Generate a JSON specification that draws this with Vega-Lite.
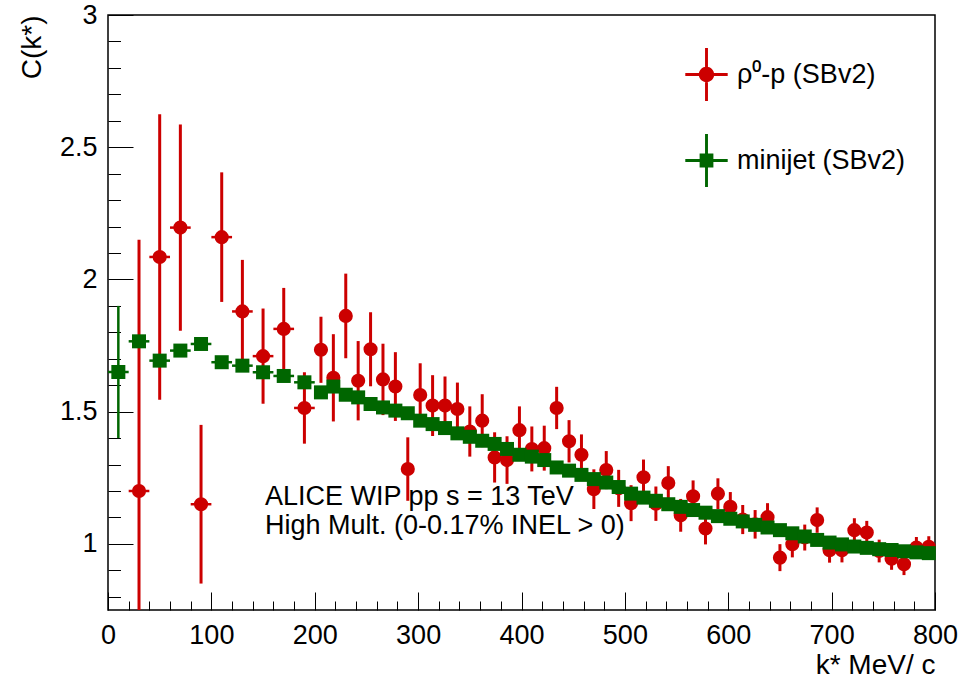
{
  "$schema": "https://vega.github.io/schema/vega-lite/v6.json",
  "width": 827,
  "height": 595,
  "autosize": {"type": "none"},
  "padding": {"left": 108, "top": 15, "right": 25, "bottom": 74},
  "background": "white",
  "config": {
    "font": "Liberation Sans",
    "view": {"stroke": "black", "strokeWidth": 1.5},
    "axis": {"domain": false, "grid": false, "tickColor": "black", "tickWidth": 1, "labelColor": "black", "labelFont": "Liberation Sans", "labelFontSize": 27, "titleFont": "Liberation Sans", "titleFontSize": 28, "titleFontWeight": "normal", "titleColor": "black"}
  },
  "datasets": {
    "pts": [
      {"series": "ρ⁰-p (SBv2)", "k": 30, "c": 1.2, "e": 0.95, "w": 10},
      {"series": "ρ⁰-p (SBv2)", "k": 50, "c": 2.085, "e": 0.54, "w": 10},
      {"series": "ρ⁰-p (SBv2)", "k": 70, "c": 2.196, "e": 0.39, "w": 10},
      {"series": "ρ⁰-p (SBv2)", "k": 90, "c": 1.15, "e": 0.3, "w": 10},
      {"series": "ρ⁰-p (SBv2)", "k": 110, "c": 2.16, "e": 0.245, "w": 10},
      {"series": "ρ⁰-p (SBv2)", "k": 130, "c": 1.879, "e": 0.195, "w": 10},
      {"series": "ρ⁰-p (SBv2)", "k": 150, "c": 1.71, "e": 0.18, "w": 10},
      {"series": "ρ⁰-p (SBv2)", "k": 170, "c": 1.813, "e": 0.155, "w": 10},
      {"series": "ρ⁰-p (SBv2)", "k": 190, "c": 1.514, "e": 0.135, "w": 10},
      {"series": "ρ⁰-p (SBv2)", "k": 206, "c": 1.734, "e": 0.125, "w": 6},
      {"series": "ρ⁰-p (SBv2)", "k": 218, "c": 1.628, "e": 0.165, "w": 6},
      {"series": "ρ⁰-p (SBv2)", "k": 230, "c": 1.862, "e": 0.16, "w": 6},
      {"series": "ρ⁰-p (SBv2)", "k": 242, "c": 1.617, "e": 0.15, "w": 6},
      {"series": "ρ⁰-p (SBv2)", "k": 254, "c": 1.736, "e": 0.14, "w": 6},
      {"series": "ρ⁰-p (SBv2)", "k": 266, "c": 1.622, "e": 0.135, "w": 6},
      {"series": "ρ⁰-p (SBv2)", "k": 278, "c": 1.595, "e": 0.13, "w": 6},
      {"series": "ρ⁰-p (SBv2)", "k": 290, "c": 1.283, "e": 0.12, "w": 6},
      {"series": "ρ⁰-p (SBv2)", "k": 302, "c": 1.563, "e": 0.12, "w": 6},
      {"series": "ρ⁰-p (SBv2)", "k": 314, "c": 1.523, "e": 0.115, "w": 6},
      {"series": "ρ⁰-p (SBv2)", "k": 326, "c": 1.523, "e": 0.11, "w": 6},
      {"series": "ρ⁰-p (SBv2)", "k": 338, "c": 1.51, "e": 0.1, "w": 6},
      {"series": "ρ⁰-p (SBv2)", "k": 350, "c": 1.425, "e": 0.095, "w": 6},
      {"series": "ρ⁰-p (SBv2)", "k": 362, "c": 1.466, "e": 0.1, "w": 6},
      {"series": "ρ⁰-p (SBv2)", "k": 374, "c": 1.327, "e": 0.095, "w": 6},
      {"series": "ρ⁰-p (SBv2)", "k": 386, "c": 1.317, "e": 0.09, "w": 6},
      {"series": "ρ⁰-p (SBv2)", "k": 398, "c": 1.43, "e": 0.09, "w": 6},
      {"series": "ρ⁰-p (SBv2)", "k": 410, "c": 1.359, "e": 0.085, "w": 6},
      {"series": "ρ⁰-p (SBv2)", "k": 422, "c": 1.362, "e": 0.085, "w": 6},
      {"series": "ρ⁰-p (SBv2)", "k": 434, "c": 1.514, "e": 0.08, "w": 6},
      {"series": "ρ⁰-p (SBv2)", "k": 446, "c": 1.388, "e": 0.08, "w": 6},
      {"series": "ρ⁰-p (SBv2)", "k": 458, "c": 1.337, "e": 0.077, "w": 6},
      {"series": "ρ⁰-p (SBv2)", "k": 470, "c": 1.207, "e": 0.075, "w": 6},
      {"series": "ρ⁰-p (SBv2)", "k": 482, "c": 1.279, "e": 0.072, "w": 6},
      {"series": "ρ⁰-p (SBv2)", "k": 494, "c": 1.21, "e": 0.07, "w": 6},
      {"series": "ρ⁰-p (SBv2)", "k": 506, "c": 1.154, "e": 0.068, "w": 6},
      {"series": "ρ⁰-p (SBv2)", "k": 518, "c": 1.252, "e": 0.067, "w": 6},
      {"series": "ρ⁰-p (SBv2)", "k": 530, "c": 1.152, "e": 0.065, "w": 6},
      {"series": "ρ⁰-p (SBv2)", "k": 542, "c": 1.23, "e": 0.064, "w": 6},
      {"series": "ρ⁰-p (SBv2)", "k": 554, "c": 1.108, "e": 0.062, "w": 6},
      {"series": "ρ⁰-p (SBv2)", "k": 566, "c": 1.18, "e": 0.06, "w": 6},
      {"series": "ρ⁰-p (SBv2)", "k": 578, "c": 1.058, "e": 0.06, "w": 6},
      {"series": "ρ⁰-p (SBv2)", "k": 590, "c": 1.19, "e": 0.058, "w": 6},
      {"series": "ρ⁰-p (SBv2)", "k": 602, "c": 1.14, "e": 0.056, "w": 6},
      {"series": "ρ⁰-p (SBv2)", "k": 614, "c": 1.092, "e": 0.055, "w": 6},
      {"series": "ρ⁰-p (SBv2)", "k": 626, "c": 1.074, "e": 0.054, "w": 6},
      {"series": "ρ⁰-p (SBv2)", "k": 638, "c": 1.101, "e": 0.053, "w": 6},
      {"series": "ρ⁰-p (SBv2)", "k": 650, "c": 0.948, "e": 0.051, "w": 6},
      {"series": "ρ⁰-p (SBv2)", "k": 662, "c": 0.999, "e": 0.05, "w": 6},
      {"series": "ρ⁰-p (SBv2)", "k": 674, "c": 1.024, "e": 0.049, "w": 6},
      {"series": "ρ⁰-p (SBv2)", "k": 686, "c": 1.09, "e": 0.048, "w": 6},
      {"series": "ρ⁰-p (SBv2)", "k": 698, "c": 0.976, "e": 0.047, "w": 6},
      {"series": "ρ⁰-p (SBv2)", "k": 710, "c": 0.976, "e": 0.046, "w": 6},
      {"series": "ρ⁰-p (SBv2)", "k": 722, "c": 1.052, "e": 0.045, "w": 6},
      {"series": "ρ⁰-p (SBv2)", "k": 734, "c": 1.043, "e": 0.044, "w": 6},
      {"series": "ρ⁰-p (SBv2)", "k": 746, "c": 0.973, "e": 0.043, "w": 6},
      {"series": "ρ⁰-p (SBv2)", "k": 758, "c": 0.944, "e": 0.042, "w": 6},
      {"series": "ρ⁰-p (SBv2)", "k": 770, "c": 0.923, "e": 0.041, "w": 6},
      {"series": "ρ⁰-p (SBv2)", "k": 782, "c": 0.986, "e": 0.04, "w": 6},
      {"series": "ρ⁰-p (SBv2)", "k": 794, "c": 0.989, "e": 0.04, "w": 6},
      {"series": "minijet (SBv2)", "k": 10, "c": 1.65, "e": 0.25, "w": 10},
      {"series": "minijet (SBv2)", "k": 30, "c": 1.766, "e": 0.02, "w": 10},
      {"series": "minijet (SBv2)", "k": 50, "c": 1.693, "e": 0.02, "w": 10},
      {"series": "minijet (SBv2)", "k": 70, "c": 1.731, "e": 0.02, "w": 10},
      {"series": "minijet (SBv2)", "k": 90, "c": 1.756, "e": 0.02, "w": 10},
      {"series": "minijet (SBv2)", "k": 110, "c": 1.687, "e": 0.015, "w": 10},
      {"series": "minijet (SBv2)", "k": 130, "c": 1.674, "e": 0.015, "w": 10},
      {"series": "minijet (SBv2)", "k": 150, "c": 1.649, "e": 0.015, "w": 10},
      {"series": "minijet (SBv2)", "k": 170, "c": 1.635, "e": 0.012, "w": 10},
      {"series": "minijet (SBv2)", "k": 190, "c": 1.611, "e": 0.012, "w": 10},
      {"series": "minijet (SBv2)", "k": 206, "c": 1.573, "e": 0.01, "w": 6},
      {"series": "minijet (SBv2)", "k": 218, "c": 1.595, "e": 0.01, "w": 6},
      {"series": "minijet (SBv2)", "k": 230, "c": 1.564, "e": 0.01, "w": 6},
      {"series": "minijet (SBv2)", "k": 242, "c": 1.554, "e": 0.01, "w": 6},
      {"series": "minijet (SBv2)", "k": 254, "c": 1.529, "e": 0.01, "w": 6},
      {"series": "minijet (SBv2)", "k": 266, "c": 1.516, "e": 0.01, "w": 6},
      {"series": "minijet (SBv2)", "k": 278, "c": 1.504, "e": 0.01, "w": 6},
      {"series": "minijet (SBv2)", "k": 290, "c": 1.494, "e": 0.01, "w": 6},
      {"series": "minijet (SBv2)", "k": 302, "c": 1.466, "e": 0.01, "w": 6},
      {"series": "minijet (SBv2)", "k": 314, "c": 1.453, "e": 0.01, "w": 6},
      {"series": "minijet (SBv2)", "k": 326, "c": 1.438, "e": 0.01, "w": 6},
      {"series": "minijet (SBv2)", "k": 338, "c": 1.418, "e": 0.01, "w": 6},
      {"series": "minijet (SBv2)", "k": 350, "c": 1.405, "e": 0.01, "w": 6},
      {"series": "minijet (SBv2)", "k": 362, "c": 1.39, "e": 0.01, "w": 6},
      {"series": "minijet (SBv2)", "k": 374, "c": 1.378, "e": 0.01, "w": 6},
      {"series": "minijet (SBv2)", "k": 386, "c": 1.359, "e": 0.01, "w": 6},
      {"series": "minijet (SBv2)", "k": 398, "c": 1.337, "e": 0.01, "w": 6},
      {"series": "minijet (SBv2)", "k": 410, "c": 1.33, "e": 0.01, "w": 6},
      {"series": "minijet (SBv2)", "k": 422, "c": 1.317, "e": 0.01, "w": 6},
      {"series": "minijet (SBv2)", "k": 434, "c": 1.289, "e": 0.01, "w": 6},
      {"series": "minijet (SBv2)", "k": 446, "c": 1.277, "e": 0.01, "w": 6},
      {"series": "minijet (SBv2)", "k": 458, "c": 1.261, "e": 0.01, "w": 6},
      {"series": "minijet (SBv2)", "k": 470, "c": 1.245, "e": 0.01, "w": 6},
      {"series": "minijet (SBv2)", "k": 482, "c": 1.232, "e": 0.01, "w": 6},
      {"series": "minijet (SBv2)", "k": 494, "c": 1.215, "e": 0.01, "w": 6},
      {"series": "minijet (SBv2)", "k": 506, "c": 1.19, "e": 0.01, "w": 6},
      {"series": "minijet (SBv2)", "k": 518, "c": 1.175, "e": 0.01, "w": 6},
      {"series": "minijet (SBv2)", "k": 530, "c": 1.163, "e": 0.01, "w": 6},
      {"series": "minijet (SBv2)", "k": 542, "c": 1.15, "e": 0.01, "w": 6},
      {"series": "minijet (SBv2)", "k": 554, "c": 1.14, "e": 0.01, "w": 6},
      {"series": "minijet (SBv2)", "k": 566, "c": 1.128, "e": 0.01, "w": 6},
      {"series": "minijet (SBv2)", "k": 578, "c": 1.118, "e": 0.01, "w": 6},
      {"series": "minijet (SBv2)", "k": 590, "c": 1.105, "e": 0.01, "w": 6},
      {"series": "minijet (SBv2)", "k": 602, "c": 1.095, "e": 0.01, "w": 6},
      {"series": "minijet (SBv2)", "k": 614, "c": 1.085, "e": 0.01, "w": 6},
      {"series": "minijet (SBv2)", "k": 626, "c": 1.072, "e": 0.01, "w": 6},
      {"series": "minijet (SBv2)", "k": 638, "c": 1.062, "e": 0.01, "w": 6},
      {"series": "minijet (SBv2)", "k": 650, "c": 1.052, "e": 0.01, "w": 6},
      {"series": "minijet (SBv2)", "k": 662, "c": 1.04, "e": 0.01, "w": 6},
      {"series": "minijet (SBv2)", "k": 674, "c": 1.028, "e": 0.01, "w": 6},
      {"series": "minijet (SBv2)", "k": 686, "c": 1.015, "e": 0.01, "w": 6},
      {"series": "minijet (SBv2)", "k": 698, "c": 1.005, "e": 0.01, "w": 6},
      {"series": "minijet (SBv2)", "k": 710, "c": 0.998, "e": 0.01, "w": 6},
      {"series": "minijet (SBv2)", "k": 722, "c": 0.99, "e": 0.01, "w": 6},
      {"series": "minijet (SBv2)", "k": 734, "c": 0.985, "e": 0.01, "w": 6},
      {"series": "minijet (SBv2)", "k": 746, "c": 0.98, "e": 0.01, "w": 6},
      {"series": "minijet (SBv2)", "k": 758, "c": 0.977, "e": 0.01, "w": 6},
      {"series": "minijet (SBv2)", "k": 770, "c": 0.972, "e": 0.01, "w": 6},
      {"series": "minijet (SBv2)", "k": 782, "c": 0.968, "e": 0.01, "w": 6},
      {"series": "minijet (SBv2)", "k": 794, "c": 0.965, "e": 0.01, "w": 6}
    ]
  },
  "data": {"name": "pts"},
  "layer": [
    {
      "transform": [{"filter": "datum.series !== 'minijet (SBv2)'"}],
      "mark": {"type": "errorbar", "color": "#cc0000", "rule": {"strokeWidth": 3}},
      "encoding": {
        "x": {"field": "k", "type": "quantitative", "scale": {"domain": [0, 800], "nice": false, "zero": false},
          "axis": {"orient": "bottom", "values": [0, 100, 200, 300, 400, 500, 600, 700, 800], "format": "d", "tickSize": -18, "labelPadding": 30, "labelFlush": false, "labelOverlap": false,
            "title": "k* MeV/ c", "titleAnchor": "end", "titleAlign": "right", "titleBaseline": "alphabetic", "titleX": 827, "titleY": 63}},
        "y": {"field": "c", "type": "quantitative", "scale": {"domain": [0.75, 3], "nice": false, "zero": false, "clamp": true},
          "axis": {"orient": "left", "values": [1, 1.5, 2, 2.5, 3], "format": "~g", "tickSize": -25, "labelPadding": 36, "labelFlush": false, "labelOverlap": false,
            "title": "C(k*)", "titleAngle": -90, "titleAlign": "right", "titleBaseline": "middle", "titleX": -76, "titleY": 0}},
        "yError": {"field": "e"}
      }
    },
    {
      "transform": [{"filter": "datum.series !== 'minijet (SBv2)'"}],
      "mark": {"type": "errorbar", "color": "#cc0000", "rule": {"strokeWidth": 2.5}},
      "encoding": {
        "x": {"field": "k", "type": "quantitative", "axis": null},
        "y": {"field": "c", "type": "quantitative", "axis": null},
        "xError": {"field": "w"}
      }
    },
    {
      "transform": [{"filter": "datum.series !== 'minijet (SBv2)'"}],
      "mark": {"type": "point", "shape": "circle", "filled": true, "size": 200, "color": "#cc0000", "opacity": 1},
      "encoding": {
        "x": {"field": "k", "type": "quantitative", "axis": null},
        "y": {"field": "c", "type": "quantitative", "axis": null}
      }
    },
    {
      "transform": [{"filter": "datum.series === 'minijet (SBv2)'"}],
      "mark": {"type": "errorbar", "color": "#006600", "rule": {"strokeWidth": 2.5}},
      "encoding": {
        "x": {"field": "k", "type": "quantitative", "axis": null},
        "y": {"field": "c", "type": "quantitative", "axis": null},
        "yError": {"field": "e"}
      }
    },
    {
      "transform": [{"filter": "datum.series === 'minijet (SBv2)'"}],
      "mark": {"type": "errorbar", "color": "#006600", "rule": {"strokeWidth": 2.5}},
      "encoding": {
        "x": {"field": "k", "type": "quantitative", "axis": null},
        "y": {"field": "c", "type": "quantitative", "axis": null},
        "xError": {"field": "w"}
      }
    },
    {
      "transform": [{"filter": "datum.series === 'minijet (SBv2)'"}],
      "mark": {"type": "point", "shape": "square", "filled": true, "size": 196, "color": "#006600", "opacity": 1},
      "encoding": {
        "x": {"field": "k", "type": "quantitative", "axis": null},
        "y": {"field": "c", "type": "quantitative", "axis": null}
      }
    },
    {
      "data": {"values": [{}]},
      "mark": {"type": "text", "text": ["ALICE WIP pp s = 13 TeV", "High Mult. (0-0.17% INEL > 0)"], "lineHeight": 29, "align": "left", "baseline": "alphabetic", "fontSize": 27, "font": "Liberation Sans", "color": "black"},
      "encoding": {
        "x": {"datum": 151.8, "type": "quantitative", "axis": null},
        "y": {"datum": 1.147, "type": "quantitative", "axis": null}
      }
    },
    {
      "mark": {"type": "point", "filled": true, "opacity": 0},
      "encoding": {
        "x": {"field": "k", "type": "quantitative",
          "axis": {"orient": "bottom", "values": [20, 40, 60, 80, 120, 140, 160, 180, 220, 240, 260, 280, 320, 340, 360, 380, 420, 440, 460, 480, 520, 540, 560, 580, 620, 640, 660, 680, 720, 740, 760, 780], "tickSize": -9, "labels": false, "title": null}},
        "y": {"field": "c", "type": "quantitative",
          "axis": {"orient": "left", "values": [0.8, 0.9, 1.1, 1.2, 1.3, 1.4, 1.6, 1.7, 1.8, 1.9, 2.1, 2.2, 2.3, 2.4, 2.6, 2.7, 2.8, 2.9], "tickSize": -12.5, "labels": false, "title": null}},
        "color": {"field": "series", "type": "nominal",
          "scale": {"domain": ["ρ⁰-p (SBv2)", "minijet (SBv2)"], "range": ["#cc0000", "#006600"]},
          "legend": {"orient": "none", "legendX": 572, "legendY": 33, "title": null, "symbolSize": 2809, "symbolStrokeWidth": 0, "symbolOpacity": 1, "labelFontSize": 27, "labelFont": "Liberation Sans", "labelColor": "black", "labelOffset": 4, "rowPadding": 33, "padding": 0, "labelLimit": 400}},
        "shape": {"field": "series", "type": "nominal",
          "scale": {"domain": ["ρ⁰-p (SBv2)", "minijet (SBv2)"], "range": [
            "M-0.8,-0.055H0.8V0.055H-0.8Z M-0.055,-1H0.055V1H-0.055Z M-0.29,0A0.29,0.29 0 1,1 0.29,0A0.29,0.29 0 1,1 -0.29,0Z",
            "M-0.8,-0.055H0.8V0.055H-0.8Z M-0.055,-1H0.055V1H-0.055Z M-0.26,-0.26H0.26V0.26H-0.26Z"]},
          "legend": {"orient": "none", "legendX": 572, "legendY": 33, "title": null, "symbolSize": 2809, "symbolStrokeWidth": 0, "symbolOpacity": 1, "labelFontSize": 27, "labelFont": "Liberation Sans", "labelColor": "black", "labelOffset": 4, "rowPadding": 33, "padding": 0, "labelLimit": 400}}
      }
    }
  ],
  "resolve": {"axis": {"x": "independent", "y": "independent"}}
}
